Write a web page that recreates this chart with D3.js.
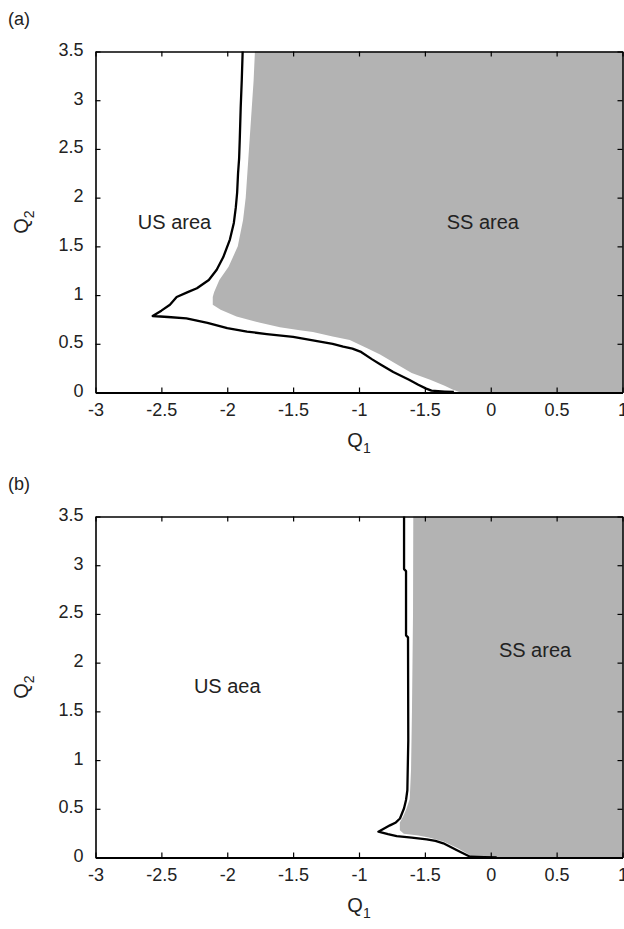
<!DOCTYPE html>
<html>
<head>
<meta charset="utf-8">
<script src="https://cdn.jsdelivr.net/npm/d3@7"></script>
<style>
  html, body { margin: 0; padding: 0; background: #fff; }
  text { font-family: "Liberation Sans", Arial, sans-serif; fill: #222; }
</style>
</head>
<body>
<svg id="chart" width="624" height="929"></svg>
<script>
// Axis ticks and their printed labels
const xTickValues = [-3, -2.5, -2, -1.5, -1, -0.5, 0, 0.5, 1];
const xTickLabels = ["-3", "-2.5", "-2", "-1.5", "-1", "-1.5", "0", "0.5", "1"];
const yTickValues = [0, 0.5, 1, 1.5, 2, 2.5, 3, 3.5];
const yTickLabels = ["0", "0.5", "1", "1.5", "2", "2.5", "3", "3.5"];

// Panel (a): left boundary of the stable (SS) region, top to bottom, as [Q1, Q2]
const ssBoundaryA = [
  [-1.79, 3.5], [-1.80, 3.2], [-1.81, 3.0], [-1.83, 2.6], [-1.84, 2.4], [-1.86, 2.0],
  [-1.88, 1.77], [-1.92, 1.5], [-1.99, 1.29], [-2.06, 1.155], [-2.10, 1.03], [-2.11, 0.98],
  [-2.11, 0.90], [-2.05, 0.85], [-1.93, 0.78], [-1.75, 0.715], [-1.60, 0.67], [-1.45, 0.64],
  [-1.35, 0.62], [-1.20, 0.575], [-1.07, 0.54], [-0.93, 0.45], [-0.84, 0.39], [-0.74, 0.31],
  [-0.60, 0.20], [-0.46, 0.13], [-0.35, 0.07], [-0.29, 0.03], [-0.23, 0]
];

// Panel (a): stability boundary curve
const curveA = [
  [-1.883, 3.5], [-1.89, 3.2], [-1.898, 2.92], [-1.905, 2.6], [-1.91, 2.4], [-1.918, 2.25],
  [-1.925, 2.05], [-1.935, 1.9], [-1.95, 1.74], [-1.98, 1.57], [-2.03, 1.39], [-2.08, 1.26],
  [-2.14, 1.155], [-2.23, 1.07], [-2.30, 1.03], [-2.384, 0.98], [-2.435, 0.90], [-2.50, 0.84],
  [-2.566, 0.785], [-2.45, 0.775], [-2.31, 0.76], [-2.15, 0.715], [-2.00, 0.66], [-1.85, 0.625],
  [-1.70, 0.60], [-1.50, 0.57], [-1.35, 0.535], [-1.20, 0.50], [-1.12, 0.47], [-1.05, 0.45],
  [-0.99, 0.42], [-0.90, 0.34], [-0.84, 0.29], [-0.74, 0.21], [-0.62, 0.13], [-0.55, 0.08],
  [-0.49, 0.04], [-0.45, 0.02], [-0.35, 0.01], [-0.28, 0.005]
];

// Panel (b): left boundary of the stable (SS) region
const ssBoundaryB = [
  [-0.588, 3.5], [-0.59, 2.5], [-0.598, 1.5], [-0.605, 0.9], [-0.615, 0.6], [-0.64, 0.5],
  [-0.665, 0.42], [-0.69, 0.36], [-0.69, 0.28], [-0.66, 0.245], [-0.55, 0.225], [-0.47, 0.205],
  [-0.36, 0.165], [-0.25, 0.095], [-0.16, 0.025], [-0.13, 0]
];

// Panel (b): stability boundary curve
const curveB = [
  [-0.658, 3.5], [-0.658, 2.96], [-0.643, 2.94], [-0.643, 2.28], [-0.628, 2.26], [-0.626, 1.2],
  [-0.633, 0.69], [-0.643, 0.59], [-0.658, 0.505], [-0.689, 0.40], [-0.72, 0.36], [-0.765, 0.33],
  [-0.853, 0.265], [-0.78, 0.24], [-0.714, 0.22], [-0.60, 0.205], [-0.486, 0.187], [-0.42, 0.17],
  [-0.36, 0.146], [-0.26, 0.077], [-0.157, 0.008], [-0.05, 0.003], [0.045, 0]
];

const panels = [
  { tag: "(a)", top: 51.5, ss: ssBoundaryA, curve: curveA,
    usLabel: "US area", usPos: [-2.40, 1.68], ssLabel: "SS area", ssPos: [-0.06, 1.68] },
  { tag: "(b)", top: 516.5, ss: ssBoundaryB, curve: curveB,
    usLabel: "US aea", usPos: [-2.0, 1.69], ssLabel: "SS area", ssPos: [0.336, 2.06] }
];

const svg = d3.select("#chart");
const left = 95.5, width = 527, height = 341;
const x = d3.scaleLinear().domain([-3, 1]).range([left, left + width]);

panels.forEach(p => {
  const y = d3.scaleLinear().domain([0, 3.5]).range([p.top + height, p.top]);
  const g = svg.append("g");

  // Stable region: boundary closed along the right edge of the plot
  const [x0, x1] = x.domain();
  const [y0, y1] = y.domain();
  const poly = p.ss.concat([[x1, y0], [x1, y1]]);
  g.append("path")
    .attr("d", d3.line().x(d => x(d[0])).y(d => y(d[1]))(poly) + "Z")
    .attr("fill", "#b3b3b3")
    .attr("stroke", "none");

  // Boundary curve
  g.append("path")
    .attr("d", d3.line().x(d => x(d[0])).y(d => y(d[1]))(p.curve))
    .attr("fill", "none")
    .attr("stroke", "#000")
    .attr("stroke-width", 2.3)
    .attr("stroke-linejoin", "round");

  // Axes with inward ticks
  const bottom = g.append("g")
    .attr("transform", `translate(0,${p.top + height})`)
    .call(d3.axisBottom(x).tickValues(xTickValues)
      .tickFormat((d, i) => xTickLabels[i]).tickSizeInner(-5).tickSizeOuter(0).tickPadding(13));
  const topAx = g.append("g")
    .attr("transform", `translate(0,${p.top})`)
    .call(d3.axisTop(x).tickValues(xTickValues).tickFormat("").tickSizeInner(-5).tickSizeOuter(0));
  const leftAx = g.append("g")
    .attr("transform", `translate(${left},0)`)
    .call(d3.axisLeft(y).tickValues(yTickValues)
      .tickFormat((d, i) => yTickLabels[i]).tickSizeInner(-5).tickSizeOuter(0).tickPadding(12));
  const rightAx = g.append("g")
    .attr("transform", `translate(${left + width},0)`)
    .call(d3.axisRight(y).tickValues(yTickValues).tickFormat("").tickSizeInner(-5).tickSizeOuter(0));

  [bottom, topAx, leftAx, rightAx].forEach(a => {
    a.select(".domain").attr("stroke", "#000").attr("stroke-width", 1.6);
    a.selectAll(".tick line").attr("stroke", "#000").attr("stroke-width", 1.2);
    a.selectAll(".tick text").attr("fill", "#222").attr("font-size", 18)
      .attr("font-family", "'Liberation Sans', Arial, sans-serif");
  });
  bottom.select(".domain").attr("stroke-width", 2.2);
  leftAx.selectAll(".tick text").attr("dy", "0.22em");
  bottom.selectAll(".tick text").attr("dy", "0.6em");

  // Panel tag
  g.append("text").attr("x", 8).attr("y", p.top - 27).attr("font-size", 18).text(p.tag);

  // Axis titles
  const xt = g.append("text")
    .attr("x", x(-1)).attr("y", p.top + height + 54)
    .attr("text-anchor", "middle").attr("font-size", 20);
  xt.append("tspan").text("Q");
  xt.append("tspan").attr("font-size", 14).attr("dy", 6).text("1");

  const yt = g.append("text")
    .attr("transform", `translate(28,${y(1.75)}) rotate(-90)`)
    .attr("text-anchor", "middle").attr("font-size", 20);
  yt.append("tspan").text("Q");
  yt.append("tspan").attr("font-size", 14).attr("dy", 6).text("2");

  // Region labels
  g.append("text").attr("x", x(p.usPos[0])).attr("y", y(p.usPos[1]))
    .attr("text-anchor", "middle").attr("font-size", 20).text(p.usLabel);
  g.append("text").attr("x", x(p.ssPos[0])).attr("y", y(p.ssPos[1]))
    .attr("text-anchor", "middle").attr("font-size", 20).text(p.ssLabel);
});
</script>
</body>
</html>
